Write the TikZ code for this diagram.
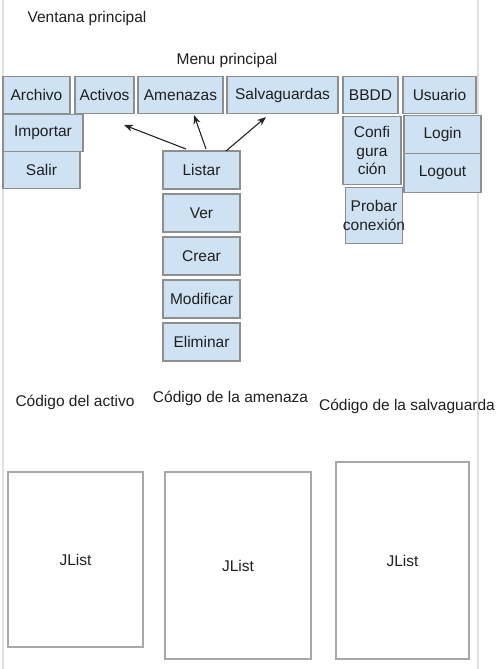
\documentclass[tikz,border=0pt]{standalone}
\usepackage{fontspec}
\setmainfont{Liberation Sans}
\usetikzlibrary{arrows.meta}
\usetikzlibrary{positioning}
\definecolor{menufill}{HTML}{CFE2F3}
\definecolor{menuline}{HTML}{8E8E8E}
\definecolor{listline}{HTML}{A8A8A8}
\definecolor{frameline}{HTML}{E0E0E0}

\begin{document}
\begin{tikzpicture}[x=1pt, y=-1pt]
      \tikzset{
        >={Stealth[length=9pt, width=7pt]},
        node distance=4pt,
        every node/.style={font=\fontsize{15.5}{18.5}\selectfont, text=black!88},
        menu/.style={draw=menuline, line width=1.2pt, fill=menufill,
          minimum height=37pt, inner sep=0pt, outer sep=0pt, align=center},
        jlist/.style={draw=listline, line width=1.2pt, fill=white, inner sep=0pt},
      }
      \useasboundingbox (0,0) rectangle (500,669);
      \draw[frameline, line width=1.5pt] (3,0) -- (3,669) (478,0) -- (478,669);

      \node[anchor=west] (ventana) at (24,18) {Ventana principal};
      \node (menutit) at (227,60) {Menu principal};

      % barra de menu
      \node[menu, minimum width=67pt] (archivo) at (36.5,95) {Archivo};
      \node[menu, minimum width=59pt, right=5pt of archivo] (activos) {Activos};
      \node[menu, minimum width=85pt, right=of activos] (amenazas) {Amenazas};
      \node[menu, minimum width=111pt, right=of amenazas] (salva) {Salvaguardas};
      \node[menu, minimum width=55pt, right=5pt of salva] (bbdd) {BBDD};
      \node[menu, minimum width=73pt, right=5pt of bbdd] (usuario) {Usuario};

      \node[menu, minimum width=80pt, anchor=north west] (importar) at ([yshift=-1pt]archivo.south west) {Importar};
      \node[menu, minimum width=77pt, anchor=north west] (salir) at (importar.south west) {Salir};

      \node[menu, minimum width=58pt, minimum height=68pt, below=3pt of bbdd, xshift=1.5pt] (config) {Confi\\gura\\ción};
      \node[menu, minimum width=57pt, minimum height=56pt, below=3pt of config, xshift=2pt,
        label={[align=center]center:Probar\\conexión}] (probar) {};
      \node[menu, minimum width=77pt, minimum height=38pt, below=2pt of usuario, xshift=3pt] (login) {Login};
      \node[menu, minimum width=77pt, minimum height=39pt, below=0pt of login] (logout) {Logout};

      % acciones
      \node[menu, minimum width=77pt, minimum height=38pt] (listar) at (201.5,170) {Listar};
      \node[menu, minimum width=77pt, minimum height=38pt, below=5pt of listar] (ver) {Ver};
      \node[menu, minimum width=77pt, minimum height=38pt, below=5pt of ver] (crear) {Crear};
      \node[menu, minimum width=77pt, minimum height=38pt, below=5pt of crear] (modificar) {Modificar};
      \node[menu, minimum width=77pt, minimum height=38pt, below=5pt of modificar] (eliminar) {Eliminar};

      \coordinate (fa) at (124,125);
      \coordinate (fb) at (194,115);
      \coordinate (fc) at (266,117);
      \draw[line width=1.1pt, black!85]
        ([xshift=-15.5pt, yshift=2pt]listar.north) edge[->] (fa)
        ([xshift=4.5pt, yshift=2pt]listar.north) edge[->] (fb)
        ([xshift=24.5pt]listar.north) edge[->] (fc);

      % listas
      \node (codactivo) at (75,402) {Código del activo};
      \node (codamenaza) at (230.5,398) {Código de la amenaza};
      \node (codsalva) at (407,406) {Código de la salvaguarda};

      \node[jlist, minimum width=135pt, minimum height=175pt] (lista1) at (75.5,559.5) {JList};
      \node[jlist, minimum width=146pt, minimum height=187pt] (lista2) at (238,565.5) {JList};
      \node[jlist, minimum width=133pt, minimum height=197pt] (lista3) at (402.5,560.5) {JList};
    \end{tikzpicture}
\end{document}
